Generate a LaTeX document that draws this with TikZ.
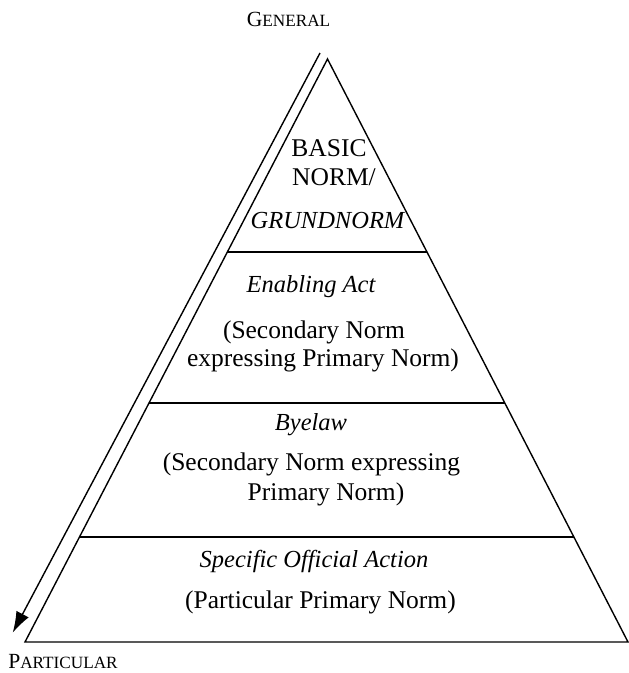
\documentclass[tikz,border=0pt]{standalone}
\usepackage{fontspec}
\setmainfont{Liberation Serif}
\usetikzlibrary{arrows.meta,calc}
\newcommand{\fakesc}[2]{{\fontsize{21.6}{24}\selectfont #1}{\fontsize{17.2}{20}\selectfont #2}}
\begin{document}
\begin{tikzpicture}[x=1pt,y=-1pt,
  edge/.style={line width=1.4pt,line join=miter},
  divider/.style={line width=1.5pt},
  flow/.style={line width=1.4pt,-{Latex[length=21pt,width=14pt]}},
  lbl/.style={anchor=base,inner sep=0pt,font=\fontsize{25.5}{29}\selectfont},
  ilbl/.style={anchor=base,inner sep=0pt,font=\fontsize{24.5}{29}\selectfont\itshape},
  endlbl/.style={anchor=base,inner sep=0pt}]
\useasboundingbox (0,0) rectangle (629,673);
% triangle
\coordinate (apex) at (327.5,59);
\coordinate (bl) at (25,642);
\coordinate (br) at (628,642);
\draw[edge] (apex) -- (bl) -- (br) -- cycle;
% dividers
\coordinate (d1l) at ($(apex)!0.331!(bl)$);
\coordinate (d1r) at ($(apex)!0.331!(br)$);
\coordinate (d2l) at ($(apex)!0.590!(bl)$);
\coordinate (d2r) at ($(apex)!0.590!(br)$);
\coordinate (d3l) at ($(apex)!0.820!(bl)$);
\coordinate (d3r) at ($(apex)!0.820!(br)$);
\draw[divider] (d1l) -- (d1r);
\draw[divider] (d2l) -- (d2r);
\draw[divider] (d3l) -- (d3r);
% end labels
\node[endlbl] (general) at (288.5,26) {\fakesc{G}{ENERAL}};
\node[endlbl] (particular) at (63,668.5) {\fakesc{P}{ARTICULAR}};
% arrow
\coordinate (astart) at (320,53);
\coordinate (aend) at (12.7,632.7);
\draw[flow] (astart) -- (aend);
% layer 1
\node[lbl] (basic) at (329,156) {BASIC};
\node[lbl] (norm) at (334,185) {NORM/};
\node[ilbl] (grund) at (327.5,228) {GRUNDNORM};
% layer 2
\node[ilbl] (enabling) at (311,292) {Enabling Act};
\node[lbl] (sec1) at (314,338) {(Secondary Norm};
\node[lbl] (exp1) at (323,366) {expressing Primary Norm)};
% layer 3
\node[ilbl] (byelaw) at (311,430) {Byelaw};
\node[lbl] (sec2) at (311.5,470) {(Secondary Norm expressing};
\node[lbl] (prim2) at (326,500) {Primary Norm)};
% layer 4
\node[ilbl] (specific) at (314,567) {Specific Official Action};
\node[lbl] (partic) at (320.5,608) {(Particular Primary Norm)};
\end{tikzpicture}
\end{document}
